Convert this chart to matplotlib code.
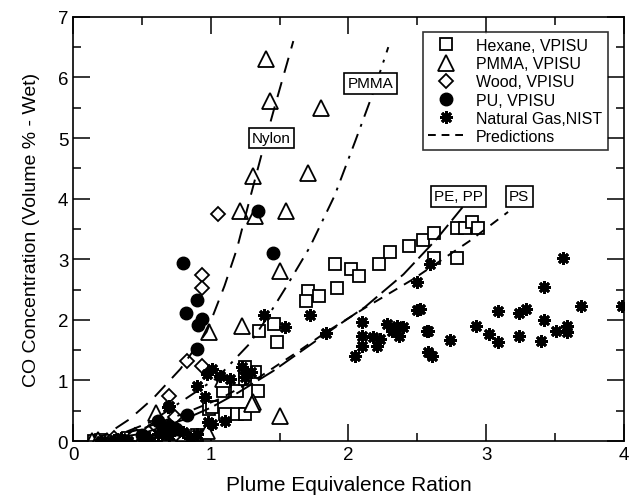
import matplotlib
matplotlib.use("Agg")
import matplotlib.pyplot as plt
from matplotlib.ticker import MultipleLocator

plt.rcParams['font.family'] = ['Liberation Sans', 'DejaVu Sans']

# ---- data ----
hexane_x = [1.90, 2.02, 2.08, 2.22, 2.30, 2.44, 2.54, 2.62, 2.62, 1.92, 1.71, 1.79, 1.69,
            1.46, 1.35, 1.48, 2.79, 2.85, 2.90, 2.94, 2.79,
            1.25, 1.32, 1.25, 1.09, 1.19, 1.34, 0.99, 1.10, 1.19, 1.25, 1.25, 1.01,
            0.15, 0.20, 0.30, 0.40, 0.45, 0.50, 0.55, 0.60, 0.70, 0.80, 0.90]
hexane_y = [2.92, 2.84, 2.72, 2.92, 3.12, 3.22, 3.32, 3.43, 3.02, 2.52, 2.48, 2.39, 2.31,
            1.93, 1.82, 1.63, 3.51, 3.51, 3.62, 3.51, 3.02,
            1.10, 1.14, 1.22, 0.83, 0.83, 0.83, 0.53, 0.45, 0.45, 0.45, 1.02, 0.56,
            0.00, 0.02, 0.00, 0.05, 0.02, 0.08, 0.05, 0.10, 0.12, 0.08, 0.10]

pmma_x = [1.40, 1.43, 1.80, 1.31, 1.71, 1.21, 1.32, 1.55, 1.50, 1.23, 0.99,
          1.50, 1.31, 1.09, 0.97, 0.60, 1.30, 0.14, 0.18, 0.25, 0.45, 0.50]
pmma_y = [6.30, 5.61, 5.50, 4.37, 4.42, 3.80, 3.71, 3.80, 2.80, 1.90, 1.80,
          0.41, 0.64, 1.02, 0.17, 0.46, 0.61, 0.00, 0.02, 0.00, 0.03, 0.05]

wood_x = [1.05, 0.94, 0.94, 0.83, 0.94, 0.70, 0.74, 0.30, 0.45, 0.55, 0.65, 0.75, 0.60]
wood_y = [3.74, 2.74, 2.52, 1.32, 1.24, 0.74, 0.39, 0.05, 0.10, 0.15, 0.20, 0.12, 0.25]

pu_x = [1.34, 1.45, 0.80, 0.90, 0.82, 0.94, 0.91, 0.90, 0.83, 0.62, 0.50, 0.65, 0.70, 0.75]
pu_y = [3.80, 3.10, 2.93, 2.33, 2.12, 2.01, 1.91, 1.52, 0.43, 0.33, 0.10, 0.15, 0.25, 0.20]

nist_x = [3.56, 3.42, 3.69, 3.99, 3.29, 3.24, 3.09, 3.42, 2.93, 3.59, 3.51, 3.59, 3.02,
          2.58, 2.74, 3.24, 3.09, 3.40, 2.58, 2.61, 2.59, 2.52,
          1.39, 1.54, 1.72, 1.84, 2.10, 2.10, 2.10, 2.18, 2.28, 2.32, 2.35, 2.40, 2.37,
          2.23, 2.21, 2.50, 2.50, 2.57, 2.05,
          1.01, 0.97, 0.90, 0.96, 0.69, 1.01, 0.90, 1.23, 1.25, 1.14, 1.10, 1.07,
          1.29, 0.70, 0.98,
          0.20, 0.30, 0.35, 0.40, 0.50, 0.55, 0.62, 0.70, 0.80, 0.85]
nist_y = [3.02, 2.54, 2.23, 2.23, 2.18, 2.12, 2.15, 2.00, 1.90, 1.90, 1.81, 1.80, 1.76,
          1.82, 1.67, 1.73, 1.63, 1.65, 1.47, 1.41, 2.92, 2.18,
          2.08, 1.88, 2.08, 1.78, 1.97, 1.73, 1.57, 1.71, 1.93, 1.82, 1.90, 1.88, 1.73,
          1.68, 1.57, 2.62, 2.16, 1.82, 1.40,
          1.19, 1.10, 0.91, 0.73, 0.56, 0.28, 0.12, 1.22, 1.05, 1.02, 0.33, 1.08,
          1.14, 0.58, 0.31,
          0.00, 0.02, 0.05, 0.00, 0.08, 0.05, 0.12, 0.10, 0.15, 0.05]

# prediction curves
nylon_x = [0.15, 0.27, 0.41, 0.58, 0.78, 0.97, 1.10, 1.19, 1.28, 1.38, 1.47, 1.60]
nylon_y = [0.00, 0.15, 0.36, 0.70, 1.19, 1.80, 2.56, 3.17, 3.96, 4.82, 5.56, 6.60]
pmmacurve_x = [0.15, 0.35, 0.56, 0.78, 1.05, 1.28, 1.40, 1.55, 1.72, 1.90, 2.05, 2.18, 2.29]
pmmacurve_y = [0.00, 0.12, 0.31, 0.64, 1.05, 1.60, 2.00, 2.55, 3.20, 4.05, 4.95, 5.75, 6.50]
pepp_x = [0.15, 0.50, 0.80, 1.00, 1.20, 1.45, 1.70, 1.90, 2.12, 2.40, 2.64, 2.83]
pepp_y = [0.00, 0.12, 0.35, 0.55, 0.80, 1.15, 1.55, 1.87, 2.21, 2.75, 3.33, 3.86]
ps_x = [0.15, 0.50, 0.80, 1.07, 1.35, 1.63, 1.84, 2.13, 2.47, 2.88, 3.16]
ps_y = [0.00, 0.20, 0.45, 0.70, 1.05, 1.47, 1.80, 2.21, 2.67, 3.30, 3.78]

curve_labels = ["Nylon", "PMMA", "PE, PP", "PS"]
label_pos = [(1.44, 5.00), (2.16, 5.90), (2.80, 4.04), (3.24, 4.04)]

# ---- plot ----
fig = plt.figure(figsize=(6.3, 5.02), dpi=100)
ax = fig.add_axes([0.116, 0.1195, 0.874, 0.845])

ax.plot(hexane_x, hexane_y, ls='none', marker='s', ms=8, mfc='white', mec='black', mew=1.3,
        label='Hexane, VPISU')
ax.plot(pmma_x, pmma_y, ls='none', marker='^', ms=11, mfc='white', mec='black', mew=1.3,
        label='PMMA, VPISU')
ax.plot(wood_x, wood_y, ls='none', marker='D', ms=7.5, mfc='white', mec='black', mew=1.3,
        label='Wood, VPISU')
ax.plot(pu_x, pu_y, ls='none', marker='o', ms=9, mfc='black', mec='black',
        label='PU, VPISU')
ax.plot(nist_x, nist_y, ls='none', marker=(8, 2, 0), ms=9, mec='black', mew=2.0,
        label='Natural Gas,NIST')

ax.plot(nylon_x, nylon_y, color='black', lw=1.4, dashes=(8, 5))
ax.plot(pmmacurve_x, pmmacurve_y, color='black', lw=1.4, dashes=(8, 4, 1.5, 4))
ax.plot(pepp_x, pepp_y, color='black', lw=1.4, dashes=(10, 3))
ax.plot(ps_x, ps_y, color='black', lw=1.4, dashes=(5, 4))
ax.plot([], [], color='black', lw=1.4, dashes=(4, 3), label='Predictions')

for txt, (lx, ly) in zip(curve_labels, label_pos):
    ax.text(lx, ly, txt, ha='center', va='center', fontsize=11,
            bbox=dict(boxstyle='square,pad=0.22', fc='white', ec='black', lw=1.2))

ax.set_xlim(0, 4)
ax.set_ylim(0, 7)
ax.xaxis.set_major_locator(MultipleLocator(1))
ax.xaxis.set_minor_locator(MultipleLocator(0.5))
ax.yaxis.set_major_locator(MultipleLocator(1))
ax.yaxis.set_minor_locator(MultipleLocator(0.5))
ax.tick_params(which='both', direction='in', top=True, right=True, width=1.1,
               labelsize=13.5)
ax.tick_params(which='major', length=12)
ax.tick_params(which='minor', length=6)
for s in ax.spines.values():
    s.set_linewidth(1.2)

ax.set_xlabel('Plume Equivalence Ration', fontsize=15, labelpad=9)
ax.set_ylabel('CO Concentration (Volume % - Wet)', fontsize=14, labelpad=13)

leg = ax.legend(loc='upper right', bbox_to_anchor=(0.9855, 0.982), fontsize=11.5,
                frameon=True, fancybox=False, edgecolor='black', handlelength=2.2,
                labelspacing=0.2, borderpad=0.35, handletextpad=0.8)
leg.get_frame().set_linewidth(1.2)

fig.savefig('out.png', dpi=100, facecolor='white')
